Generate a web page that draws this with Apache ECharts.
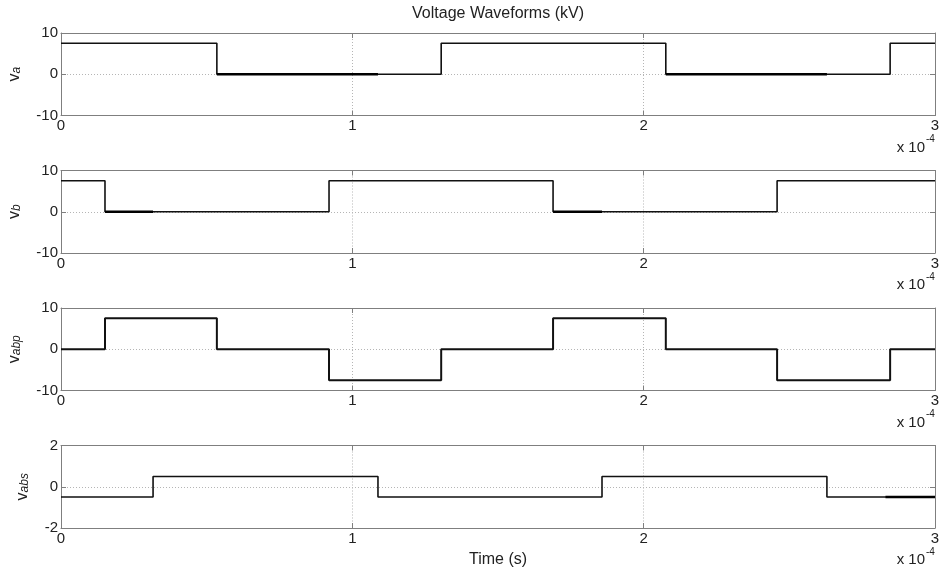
<!DOCTYPE html>
<html>
<head>
<meta charset="utf-8">
<script src="https://cdn.jsdelivr.net/npm/echarts@6/dist/echarts.min.js"></script>
<style>
  html, body { margin: 0; padding: 0; background: #fff; }
  #chart { width: 941px; height: 574px; }
</style>
</head>
<body>
<div id="chart"></div>
<script>
// time in units of 1e-4 s, level holds from that time until the next one
var vaTime = [0, 0.535, 1.305, 2.076, 2.846, 3];
var vaLevel = [7.5, 0, 7.5, 0, 7.5, 7.5];
var vbTime = [0, 0.151, 0.920, 1.689, 2.458, 3];
var vbLevel = [7.5, 0, 7.5, 0, 7.5, 7.5];
var vabpTime = [0, 0.151, 0.535, 0.920, 1.305, 1.689, 2.076, 2.458, 2.846, 3];
var vabpLevel = [0, 7.5, 0, -7.5, 0, 7.5, 0, -7.5, 0, 0];
var vabsTime = [0, 0.316, 1.088, 1.857, 2.629, 3];
var vabsLevel = [-0.5, 0.5, -0.5, 0.5, -0.5, -0.5];

// darker (overdrawn) stretches of the traces: [from, to, level]
var vaHeavy = [[0.535, 1.088, 0], [2.076, 2.629, 0]];
var vbHeavy = [[0.151, 0.316, 0], [1.689, 1.857, 0]];
var vabsHeavy = [[2.83, 3, -0.5]];

var xTicks = [0, 3, 1];          // min, max, interval
var yRanges = [[-10, 10, 10], [-10, 10, 10], [-10, 10, 10], [-2, 2, 2]];
var yNames = ['a', 'b', 'abp', 'abs'];
var yNameGaps = [38, 38, 38, 30];

var FONT = '"Liberation Sans", Arial, Helvetica, sans-serif';
var AXIS = '#7f7f7f';
var TEXT = '#222';

var tops = [33, 170.5, 308, 445.5];
var plotH = 82.5;

function pairs(t, v) {
    var out = [];
    for (var i = 0; i < t.length; i++) out.push([t[i], v[i]]);
    return out;
}

var grids = [], xAxes = [], yAxes = [], series = [];

tops.forEach(function (top, i) {
    grids.push({ left: 61, right: 6, top: top, height: plotH, containLabel: false, outerBoundsMode: 'none' });

    // bottom + top x axes
    xAxes.push({
        type: 'value', gridIndex: i, min: xTicks[0], max: xTicks[1], interval: xTicks[2],
        position: 'bottom',
        axisLine: { show: true, onZero: false, lineStyle: { color: AXIS, width: 1 } },
        axisTick: { show: true, inside: true, length: 5, lineStyle: { color: AXIS } },
        axisLabel: { color: TEXT, fontSize: 15, fontFamily: FONT, margin: 3, showMinLabel: true, showMaxLabel: true },
        splitLine: { show: true, lineStyle: { color: '#b5b5b5', type: [1, 2], width: 1 } },
        name: i === 3 ? 'Time (s)' : '',
        nameLocation: 'middle', nameGap: 24,
        nameTextStyle: { color: TEXT, fontSize: 16, fontFamily: FONT }
    });
    xAxes.push({
        type: 'value', gridIndex: i, min: xTicks[0], max: xTicks[1], interval: xTicks[2],
        position: 'top',
        axisLine: { show: true, onZero: false, lineStyle: { color: AXIS, width: 1 } },
        axisTick: { show: true, inside: true, length: 5, lineStyle: { color: AXIS } },
        axisLabel: { show: false },
        splitLine: { show: false }
    });

    var r = yRanges[i];
    yAxes.push({
        type: 'value', gridIndex: i, min: r[0], max: r[1], interval: r[2],
        position: 'left',
        axisLine: { show: true, onZero: false, lineStyle: { color: AXIS, width: 1 } },
        axisTick: { show: true, inside: true, length: 5, lineStyle: { color: AXIS } },
        axisLabel: { color: TEXT, fontSize: 15, fontFamily: FONT, margin: 3, showMinLabel: true, showMaxLabel: true },
        splitLine: { show: true, lineStyle: { color: '#b5b5b5', type: [1, 2], width: 1 } },
        name: '{v|v}{s|' + yNames[i] + '}',
        nameLocation: 'middle', nameRotate: 90, nameGap: yNameGaps[i],
        nameTextStyle: {
            color: TEXT, fontFamily: FONT,
            rich: {
                v: { fontSize: 16, fontFamily: FONT, color: TEXT, lineHeight: 16, verticalAlign: 'top' },
                s: { fontSize: 12, fontFamily: FONT, color: TEXT, fontStyle: 'italic', lineHeight: 12,
                     padding: [7, 0, 0, 0], verticalAlign: 'bottom' }
            }
        }
    });
    yAxes.push({
        type: 'value', gridIndex: i, min: r[0], max: r[1], interval: r[2],
        position: 'right',
        axisLine: { show: true, onZero: false, lineStyle: { color: AXIS, width: 1 } },
        axisTick: { show: true, inside: true, length: 5, lineStyle: { color: AXIS } },
        axisLabel: { show: false },
        splitLine: { show: false }
    });
});

var traces = [[vaTime, vaLevel], [vbTime, vbLevel], [vabpTime, vabpLevel], [vabsTime, vabsLevel]];
traces.forEach(function (tr, i) {
    series.push({
        type: 'line', step: 'end', xAxisIndex: i * 2, yAxisIndex: i * 2,
        data: pairs(tr[0], tr[1]), showSymbol: false, silent: true, animation: false,
        lineStyle: { color: '#111', width: i === 2 ? 2 : 1.6 }
    });
});

[[vaHeavy, 0], [vbHeavy, 1], [vabsHeavy, 3]].forEach(function (h) {
    h[0].forEach(function (seg) {
        series.push({
            type: 'line', xAxisIndex: h[1] * 2, yAxisIndex: h[1] * 2,
            data: [[seg[0], seg[2]], [seg[1], seg[2]]], showSymbol: false, silent: true, animation: false,
            lineStyle: { color: '#000', width: 2.4 }
        });
    });
});

var graphics = [{
    type: 'text', x: 498, y: 14,
    style: { text: 'Voltage Waveforms (kV)', align: 'center', verticalAlign: 'middle',
             font: '16px ' + FONT, fill: TEXT }
}];
tops.forEach(function (top) {
    var y = top + plotH + 32;
    graphics.push({
        type: 'text', x: 925, y: y,
        style: { text: 'x 10', align: 'right', verticalAlign: 'middle', font: '15px ' + FONT, fill: TEXT }
    });
    graphics.push({
        type: 'text', x: 926, y: y - 8,
        style: { text: '-4', align: 'left', verticalAlign: 'middle', font: '10px ' + FONT, fill: TEXT }
    });
});

var chart = echarts.init(document.getElementById('chart'));
chart.setOption({
    animation: false,
    backgroundColor: '#fff',
    grid: grids,
    xAxis: xAxes,
    yAxis: yAxes,
    series: series,
    graphic: graphics
});
</script>
</body>
</html>
